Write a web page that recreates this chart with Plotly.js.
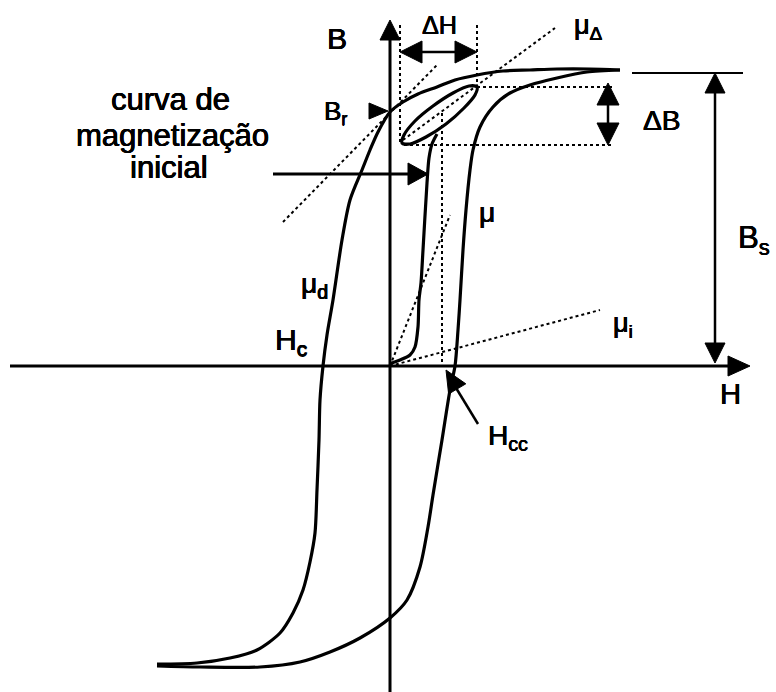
<!DOCTYPE html>
<html>
<head>
<meta charset="utf-8">
<script src="https://cdn.plot.ly/plotly-3.0.1.min.js"></script>
<style>
  html, body { margin: 0; padding: 0; background: #ffffff; }
  #chart { width: 776px; height: 692px; }
</style>
</head>
<body>
<div id="chart"></div>
<script>
// Hysteresis loop B(H) with initial magnetization curve and a minor loop.
// All coordinates are in the diagram's own H / B units (origin at the axes' crossing).

// Descending branch of the major loop (from +saturation to -saturation)
const upperH = [230, 200, 167, 140, 113, 87, 65, 47, 28, 13, 0, -12, -20, -28, -40, -48, -57, -63, -67, -70, -71, -73, -75, -80, -87, -97, -110, -133, -160, -193, -233];
const upperB = [296, 297, 297, 296, 295, 291, 286, 279, 272, 264, 254, 234, 216, 196, 166, 126, 66, 31, 0, -34, -74, -124, -167, -196, -224, -247, -267, -284, -292, -297, -298];

// Ascending branch of the major loop (from -saturation to +saturation)
const lowerH = [-233, -190, -130, -90, -60, -30, 0, 17, 30, 38, 43, 52, 60, 65, 68, 70, 73, 76, 80, 83, 90, 103, 120, 140, 167, 197, 230];
const lowerB = [-300, -301, -301, -296, -286, -272, -252, -234, -201, -161, -129, -74, -24, 0, 36, 66, 116, 156, 196, 216, 239, 259, 273, 281, 288, 294, 296];

// Initial magnetization curve, from the demagnetized state up to the minor loop
const initialH = [0, 2, 10, 20, 25, 28, 29, 31, 33, 37, 39, 42, 47];
const initialB = [0, 3, 6, 11, 19, 39, 66, 83, 116, 183, 208, 222, 232];

// Minor (incremental) loop
const minorH = [87, 85, 74, 56, 36, 20, 12, 14, 25, 43, 63, 79, 87];
const minorB = [279, 271, 258, 242, 229, 222, 223, 231, 245, 260, 273, 280, 279];

// Permeability construction lines (dotted): [H0, B0, H1, B1]
const muD     = [-107, 144, 47, 301];   // differential permeability, tangent at Br
const muDelta = [13, 226, 165, 338];    // incremental permeability across the minor loop
const muAmp   = [0, 0, 60, 151];        // amplitude permeability
const muInit  = [0, 0, 210, 56];        // initial permeability

// Reference levels
const Bs = 293;            // saturation induction
const BminorTop = 279;     // minor-loop tips
const BminorLow = 221;
const HminorLeft = 10;
const HminorRight = 87;
const HminorMark = 52;     // field of the minor-loop working point
const Hcc = 65;            // coercive field of the ascending branch
const Br = 254;            // remanence

// Axis extents
const Hmin = -380, Hmax = 360;
const Bmin = -326, Bmax = 346;

const black = '#000000';
const traces = [];

function line(xs, ys, width, dash, shape) {
  traces.push({
    type: 'scatter', mode: 'lines', x: xs, y: ys,
    line: { color: black, width: width, dash: dash || 'solid', shape: shape || 'linear', smoothing: 0.8 },
    hoverinfo: 'skip'
  });
}

// Filled triangular arrowhead with its tip at (tx, ty) pointing along (dx, dy)
function head(tx, ty, dx, dy, len, half) {
  const n = Math.hypot(dx, dy);
  const ux = dx / n, uy = dy / n;
  const bx = tx - ux * len, by = ty - uy * len;
  const px = -uy * half, py = ux * half;
  traces.push({
    type: 'scatter', mode: 'lines',
    x: [tx, bx + px, bx - px, tx],
    y: [ty, by + py, by - py, ty],
    fill: 'toself', fillcolor: black,
    line: { color: black, width: 1 },
    hoverinfo: 'skip'
  });
}

// Axes
line([Hmin, Hmax - 20], [0, 0], 3);
head(Hmax, 0, 1, 0, 22, 10);
line([0, 0], [Bmin, Bmax - 18], 3);
head(0, Bmax, 0, 1, 20, 10);

// Major loop, initial curve, minor loop
line(upperH, upperB, 3.2, 'solid', 'spline');
line(lowerH, lowerB, 3.2, 'solid', 'spline');
line(initialH, initialB, 3.2, 'solid', 'spline');
line(minorH, minorB, 3.2, 'solid', 'spline');

// Dotted construction lines
const dot = 'dot';
line([muD[0], muD[2]], [muD[1], muD[3]], 2, dot);
line([muDelta[0], muDelta[2]], [muDelta[1], muDelta[3]], 2, dot);
line([muAmp[0], muAmp[2]], [muAmp[1], muAmp[3]], 2, dot);
line([muInit[0], muInit[2]], [muInit[1], muInit[3]], 2, dot);
line([HminorMark, HminorMark], [253, 0], 2, dot);
line([HminorLeft, HminorLeft], [341, BminorLow + 2], 2, dot);
line([HminorRight, HminorRight], [341, BminorTop], 2, dot);
line([HminorRight, 223], [BminorTop, BminorTop], 2, dot);
line([14, 223], [BminorLow, BminorLow], 2, dot);

// ΔH double arrow
line([HminorLeft + 18, HminorRight - 18], [314, 314], 2.5);
head(HminorLeft, 314, -1, 0, 22, 11);
head(HminorRight, 314, 1, 0, 22, 11);

// ΔB double arrow
line([218, 218], [BminorTop + 4 - 20, BminorLow + 20], 2.5);
head(218, BminorTop + 4, 0, 1, 22, 11);
head(218, BminorLow, 0, -1, 22, 11);

// Bs level and double arrow
line([242, 353], [Bs, Bs], 2);
line([325, 325], [Bs - 18, 3 + 18], 2.5);
head(325, Bs, 0, 1, 20, 10);
head(325, 3, 0, -1, 20, 10);

// Br pointer
head(-2, Br + 1, 1, 0, 19, 8);

// Arrow to the initial magnetization curve
line([-117, 20], [192, 192], 3);
head(38, 192, 1, 0, 20, 11);

// Arrow to Hcc
line([88, 60], [-58, -12], 2.5);
head(Hcc - 9, -4, -32, 54, 22, 10);

// Slightly heavy lettering
const heavy = '0.5px 0 0 #000, -0.3px 0 0 #000, 0 0.4px 0 #000';
const font = { family: 'Liberation Sans, Arial, sans-serif', size: 28, color: black, shadow: heavy };
function label(text, x, y, xanchor, size) {
  return {
    text: text, x: x, y: y, xref: 'x', yref: 'y',
    xanchor: xanchor || 'center', yanchor: 'middle',
    showarrow: false,
    font: Object.assign({}, font, size ? { size: size } : {})
  };
}

const annotations = [
  label('B', -53, 328, 'center', 30),
  label('ΔH', 49, 341, 'center', 25),
  label('μ<sub>Δ</sub>', 198, 339, 'center', 27),
  label('curva de', -220, 267, 'center', 31),
  label('magnetização', -218, 231, 'center', 31),
  label('inicial', -221, 199, 'center', 31),
  label('B<sub>r</sub>', -68, 254, 'left', 26),
  label('H<sub>c</sub>', -117, 25, 'left', 30),
  label('H<sub>cc</sub>', 96, -71, 'left', 28),
  label('μ', 97, 154, 'center', 28),
  label('μ<sub>i</sub>', 221, 41, 'left', 27),
  label('μ<sub>d</sub>', -91, 81, 'left', 28),
  label('ΔB', 271, 246, 'center', 28),
  label('B<sub>s</sub>', 346, 126, 'left', 31),
  label('H', 340, -28, 'center', 29)
];

const layout = {
  width: 776, height: 692,
  margin: { l: 0, r: 0, t: 0, b: 0, pad: 0 },
  paper_bgcolor: '#ffffff', plot_bgcolor: '#ffffff',
  showlegend: false,
  hovermode: false,
  xaxis: { range: [-390, 386], visible: false, fixedrange: true },
  yaxis: { range: [-326, 366], visible: false, fixedrange: true },
  annotations: annotations
};

Plotly.newPlot('chart', traces, layout, { staticPlot: true, displayModeBar: false });
</script>
</body>
</html>
